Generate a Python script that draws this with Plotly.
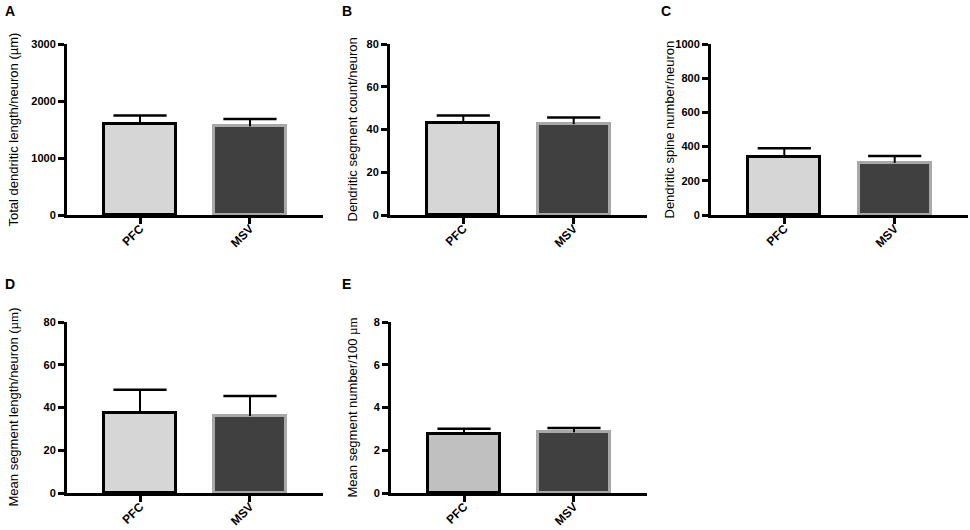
import plotly.graph_objects as go

groups = ['PFC', 'MSV']

# values (mean, upper error)
total_length = [1590, 1555]
total_length_err = [155, 130]
segment_count = [43.0, 42.5]
segment_count_err = [3.6, 3.1]
spine_number = [340, 305]
spine_number_err = [50, 40]
mean_seg_length = [37.6, 36.0]
mean_seg_length_err = [10.7, 9.4]
seg_per_100 = [2.77, 2.84]
seg_per_100_err = [0.24, 0.2]

panels = [
    # letter, values, errors, ymax, dtick, y-title, pfc fill, x domain px, y domain px, title x px
    ('A', total_length, total_length_err, 3000, 1000,
     'Total dendritic length/neuron (µm)', '#d6d6d6', (67, 323), (44, 215), 13),
    ('B', segment_count, segment_count_err, 80, 20,
     'Dendritic segment count/neuron', '#d6d6d6', (390, 647), (44, 215), 352),
    ('C', spine_number, spine_number_err, 1000, 200,
     'Dendritic spine number/neuron', '#d6d6d6', (711, 968), (44, 215), 669),
    ('D', mean_seg_length, mean_seg_length_err, 80, 20,
     'Mean segment length/neuron (<span style="font-family:Liberation Serif">µm</span>)',
     '#d6d6d6', (67, 323), (322, 493), 13),
    ('E', seg_per_100, seg_per_100_err, 8, 2,
     'Mean segment number/100 <span style="font-family:Liberation Serif">µm</span>',
     '#c0c0c0', (391, 647), (322, 493), 352),
]

W, H = 970, 530
FONT = 'Liberation Sans, Arial, sans-serif'


def px(v):
    return v / W


def py(v):
    return (H - v) / H


fig = go.Figure()

for i, (letter, vals, errs, ymax, dtick, ytitle, pfc_fill, xd, yd, tx) in enumerate(panels):
    n = '' if i == 0 else str(i + 1)
    xa, ya = 'x' + n, 'y' + n

    fig.add_trace(go.Bar(
        x=[0, 1], y=vals, width=0.65,
        marker=dict(color=[pfc_fill, '#404040'],
                    line=dict(color=['#000000', '#a8a8a8'], width=3)),
        xaxis=xa, yaxis=ya, showlegend=False, hoverinfo='skip',
    ))

    # upward-only error bars: a stem from the bar top and a cap at mean + error
    tops = [v + e for v, e in zip(vals, errs)]
    fig.add_trace(go.Scatter(
        x=[0, 0, None, 1, 1], y=[vals[0], tops[0], None, vals[1], tops[1]],
        mode='lines', line=dict(color='#000000', width=2),
        xaxis=xa, yaxis=ya, showlegend=False, hoverinfo='skip', cliponaxis=False,
    ))
    fig.add_trace(go.Scatter(
        x=[0, 1], y=tops, mode='markers',
        marker=dict(symbol='line-ew', size=38, line=dict(color='#000000', width=2.5)),
        xaxis=xa, yaxis=ya, showlegend=False, cliponaxis=False,
    ))

    axis_common = dict(showline=True, linecolor='#000000', linewidth=3,
                       ticks='outside', tickcolor='#000000', tickwidth=2.5, ticklen=6,
                       showgrid=False, zeroline=False, automargin=False)
    fig.layout['xaxis' + n] = dict(
        axis_common, domain=[px(xd[0]), px(xd[1])], range=[-0.664, 1.664],
        tickvals=[0, 1], ticktext=groups, tickangle=-45, anchor=ya, fixedrange=True,
        ticklabelstandoff=-7,
        tickfont=dict(family=FONT, size=12, color='#000000', weight='bold'))
    fig.layout['yaxis' + n] = dict(
        axis_common, domain=[py(yd[1]), py(yd[0])], range=[0, ymax],
        dtick=dtick, tick0=0, anchor=xa, fixedrange=True,
        tickfont=dict(family=FONT, size=11, color='#000000', weight='bold'))

    # y-axis title
    fig.add_annotation(x=px(tx), y=py((yd[0] + yd[1]) / 2), xref='paper', yref='paper',
                       text=ytitle, textangle=-90, showarrow=False,
                       xanchor='center', yanchor='middle',
                       font=dict(family=FONT, size=13, color='#000000'))
    # panel letter
    lx = 3 if tx < 100 else (340 if tx < 500 else 659)
    ly = 1 if yd[0] < 100 else 274
    fig.add_annotation(x=px(lx), y=py(ly), xref='paper', yref='paper',
                       text='<b>' + letter + '</b>', showarrow=False,
                       xanchor='left', yanchor='top',
                       font=dict(family=FONT, size=14, color='#000000'))

fig.update_layout(width=W, height=H, margin=dict(l=0, r=0, t=0, b=0),
                  template='none', plot_bgcolor='white', paper_bgcolor='white',
                  bargap=0)

# drop the browser's default page margin so the figure sits at the window corner
fig.write_html("out.html", config={'displayModeBar': False},
               post_script="document.body.style.margin='0';")
